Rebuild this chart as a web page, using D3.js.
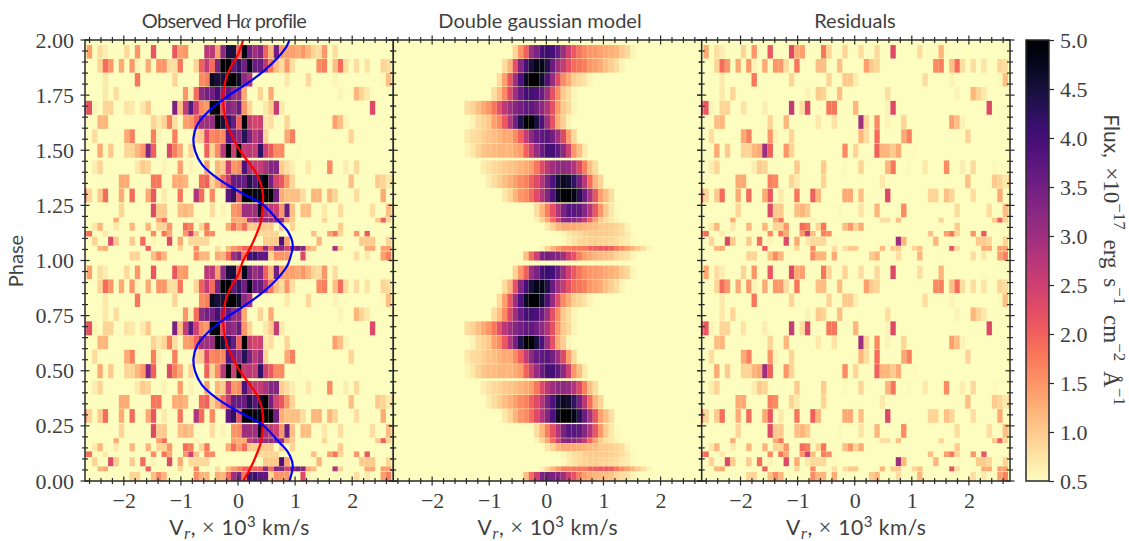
<!DOCTYPE html>
<html>
<head>
<meta charset="utf-8">
<script src="https://cdn.jsdelivr.net/npm/d3@7"></script>
<style>
	html, body { margin: 0; padding: 0; background: #fff; }
	svg { display: block; }
	text { fill: #3f3f3f; }
</style>
</head>
<body>
<div id="chart"></div>
<script>
// Phase-folded H-alpha trailed spectrum, double gaussian model and residuals

// Velocity bins, in units of 10^3 km/s
var BIN_START = -2.743;
var BIN_WIDTH = 0.09357;

// Spectrum rows for phase 0..1, they are drawn again at phase + 1
var rowTop = [0.977, 0.914, 0.850, 0.787, 0.724, 0.659, 0.595, 0.530, 0.454, 0.390, 0.326, 0.258, 0.194, 0.171, 0.134, 0.108, 0.066, 0.041];
var rowBottom = [0.916, 0.852, 0.789, 0.726, 0.661, 0.597, 0.532, 0.466, 0.392, 0.328, 0.264, 0.196, 0.172, 0.135, 0.109, 0.067, 0.044, 0.000];

// Flux per row: {velocity bin: flux}, bins left out sit at the 0.5 floor
var observedRows = [
	{1:1.4,3:.8,4:.65,8:.85,10:1.5,13:2.1,17:2.1,18:1.4,19:1.5,23:2.7,24:2.7,25:1.4,26:3.2,27:4.5,28:4.5,29:2.0,30:4.8,31:3.5,32:3,33:3.3,34:2,35:1.2,36:3.5,37:1.5,38:1.4,39:1.4,40:1.3,41:1.5,42:1.2,43:.9,44:.8,45:1.5,47:.8},
	{3:.9,4:1.9,5:1.5,7:1.3,9:1.5,10:.6,12:1.3,14:1.5,15:1.5,16:.8,17:.8,18:1.8,21:.9,22:2.0,23:2.6,24:1.9,25:3.4,26:5,27:5,28:3.7,29:4.2,30:3.5,31:4.8,32:3.6,33:3.6,34:2.7,35:1.8,36:1.1,37:.8,38:1.5,39:.8,44:1.6,45:1.7,47:1.1,48:1.9,49:.8,51:.8,53:.75,56:.9,57:.8},
	{4:.7,10:1.8,17:.9,22:1.6,23:1.7,24:4.7,25:4.5,26:4.5,27:5,28:5,29:4.6,30:3.2,31:2.8,38:.7,42:.85,47:.6,56:.55,57:1.1},
	{4:.7,6:.8,20:.6,19:1.5,21:1.9,22:3.2,23:3.5,24:3.5,25:4,26:3.4,27:3.7,28:3.1,29:3.1,30:1.3,33:.9,35:1.3,48:.6,51:1.2,52:.9,53:.7},
	{0:2.2,1:2.2,2:.6,4:.9,5:.9,8:.75,9:.7,11:.7,12:1.0,17:3.4,18:1.1,19:2.6,20:3.8,21:2.5,22:1.6,23:1.5,24:5,25:5,26:2.3,27:3.3,28:3.1,29:3.6,30:1.5,31:.9,34:.7,35:1.0,36:2.6,37:.7,54:2.3},
	{3:1.2,4:1.2,13:.9,14:.7,15:.9,16:1.7,17:.8,19:1.4,20:1.5,21:2,22:3,23:3,24:3.1,25:5,26:4.5,27:4.2,28:3.6,29:2.0,30:5,31:2.6,32:2.4,33:2.5,34:.7,35:.8,38:.9,47:1.4,48:1.1,49:.6},
	{2:.8,8:1.3,9:1.7,13:1.7,14:.6,17:1.7,21:.9,22:1.0,23:2.3,24:1.6,25:1.7,26:1.6,27:3.8,28:3.5,29:3.2,30:4.3,31:3.4,32:2.7,33:3.1,34:.9,38:1.3,39:1.7,50:.9,58:.6},
	{3:1.3,5:1.0,8:.9,9:.9,10:1.2,11:1.5,12:3.3,13:2.0,16:2.3,17:1.7,18:1.3,20:.9,23:2.0,24:.9,25:1.6,26:2.7,27:4.9,28:2.5,29:5,30:2.6,31:2.7,32:2.6,33:4.2,34:2.5,35:2.1,36:1.6,37:1.6,40:.55},
	{2:.65,3:.9,10:.7,11:1.0,12:.9,15:.6,18:1.4,20:.6,23:1.4,25:1.2,26:1.0,27:2.5,28:1.5,29:1.6,30:3.9,31:2.9,32:2.6,33:2.6,34:2.9,35:3.3,36:3.3,37:1.0,38:.8,39:.65,42:.7,46:1.6,49:.65,51:.85},
	{7:1.3,8:1.3,13:1.8,14:1.8,17:1.3,18:1.3,19:1.2,22:1.9,23:2.0,24:.9,25:1.3,26:1.9,27:2.6,28:3.6,29:3.6,30:3.6,31:4.4,32:3.8,33:4.6,34:5,35:3.5,36:2.4,37:2.1,38:1.5,39:.9,50:1.1,55:1.0,56:.9,57:.7,58:.9},
	{0:2.0,1:.9,3:1.0,4:1.9,7:1.3,9:1.9,12:1.3,13:2.1,15:.7,18:1.8,21:2.8,22:1.9,24:1.6,27:3.7,28:4.2,29:2.2,30:5,31:5,32:4.8,33:4.8,34:5,35:5,36:3.5,37:1.3,38:1.1,39:1.1,40:1.1,41:.8,43:1.2,44:1.2,46:1.2,47:.9,51:.8,56:1.3},
	{7:.9,13:2.3,14:1.0,15:1.0,18:1.1,19:1.2,20:1.1,24:.8,26:.6,28:1.5,29:1.6,30:3,31:3,32:3,33:4.7,34:3,35:2.7,36:2.5,37:1.5,38:3.6,39:1.1,41:1.1,42:1.1,45:.7,48:.8,54:.8,57:1.1,58:.8},
	{6:1.3,14:1.4,15:1.9,21:.6,28:1.4,29:1.3,30:1.3,31:2.6,32:3,33:3,34:3.1,35:3.1,36:3.1,37:3.1,38:1.4,39:1,45:.9,55:1.0,56:2.0,57:.9},
	{2:.7,3:1.2,6:.7,9:1.2,12:1.2,14:.9,15:.9,16:1.5,19:1.9,20:1.7,22:.9,23:1.8,27:1.3,28:1.9,29:1.4,30:1.9,31:1.0,32:1.0,33:1.0,34:1.0,35:1.0,37:1.0,39:.9,48:1.0},
	{0:1.9,1:1.9,4:.7,13:1.6,15:1.8,16:1.3,19:1.5,20:2.5,21:1.1,23:1.7,24:1.6,33:.8,34:.9,35:.9,36:.9,43:1.1,46:1.4,47:1.8,48:.9,51:1.5,53:2.1,58:.7},
	{2:.9,5:2.3,6:1.0,9:1.0,11:1.9,13:.6,16:2.3,18:1.3,20:.85,21:.85,22:.85,23:.85,34:1.0,35:1.0,36:1.0,37:3.9,38:1.4,44:1.2,52:1.0,53:1.0,54:1.0,57:.9},
	{3:1.2,4:1.3,12:2.0,18:.9,21:1.6,25:.8,27:1.1,28:1.5,29:1.7,30:2,31:2,32:2,33:2,34:3.2,35:1.9,36:3.3,37:3.3,38:2.5,39:3.1,40:3.5,41:3.3,42:1.3,43:1.1,47:2.8,48:.9,53:1.3,54:1.3,56:1.4,57:1.4},
	{9:.9,10:.9,13:1.1,14:1.6,15:1.2,21:1.6,22:1.2,23:1.2,25:1.3,26:1.2,27:1.9,28:3,29:3.4,30:1.8,31:4,32:4.1,33:3.7,34:3.7,35:.9,36:1.5,37:1.5,38:1.5,41:2.3,42:.6,51:.8,53:.7,56:1.4,57:1.7}
];

// Model flux per row: first bin in modelStart, then consecutive bins
var modelStart = [23, 21, 20, 19, 14, 15, 14, 14, 17, 18, 21, 27, 27, 29, 32, 32, 28, 25];
var modelRows = [
	[.9,1.5,2,3,3.4,4,4.1,4,3.6,3,2.5,2.1,1.8,1.6,1.5,1.45,1.4,1.3,1.25,1.2,1,.85,.6],
	[.8,1.2,2.2,3.3,4,4.5,4.8,4.8,4.4,3.6,3,2.6,2.2,1.9,1.8,1.7,1.5,1.4,1.3,1.1,.95,.8,.6],
	[.8,1.4,2.1,3,3.9,4.7,5,5,4.6,3.9,3.1,2.3,1.6,1.3,.95,.85,.75,.6],
	[.8,1.1,1.6,2.3,3,3.6,4,4,3.9,3.6,3,2.2,1.6,1,.8,.6],
	[.8,.9,1.1,1.3,1.5,1.8,2.2,2.7,3,3.3,3.5,3.7,3.7,3.5,3.2,2.8,2.2,1.5,1,.85,.6],
	[.6,.8,.9,1,1.4,1.6,2.1,2.8,3.5,4.4,5,5,4.5,3.9,3,2.2,1.3,.95,.6],
	[.7,.8,.85,.95,1.05,1.1,1.2,1.3,1.3,1.6,2,2.6,3.2,3.6,3.7,3.8,3.5,3,2.3,1.4,.85],
	[.6,.7,.9,1.05,1.1,1.15,1.2,1.2,1.2,1.3,1.4,2,2.5,3.1,3.6,4,4,3.7,3.2,2.5,1.5,1.1,.7],
	[.65,.75,.85,.9,1,1.05,1.1,1.2,1.3,1.4,1.8,2.3,2.7,3,3.2,3.2,3.1,2.8,2.3,1.7,1.1,.8],
	[.65,.8,.95,1.1,1.25,1.4,1.6,1.7,2,2.3,2.8,3.4,3.9,4.5,4.7,4.6,4.2,3.5,2.7,1.9,1.2,.9],
	[.7,.9,1.2,1.5,1.6,1.9,2.3,2.8,3.3,3.9,4.7,5,5,4.8,4.3,3.6,2.9,2.1,1.4,1.1,.8],
	[.8,1.2,1.7,2.2,2.8,3.4,3.8,3.8,3.7,3.3,2.8,2.1,1.5,1,.7,.55],
	[.6,.9,1.3,1.9,2.5,3.2,3.3,3.2,3,2.6,2,1.4,1,.8,.7,.6],
	[.7,.9,1.2,1.3,1.3,1.3,1.25,1.2,1.15,1.1,1,1,.95,.9,.8,.6],
	[.6,.7,.8,.85,.95,1,1,1,1,.95,.9,.8,.7,.55],
	[.55,.65,.75,.85,.9,.95,.95,.9,.9,.85,.8,.7,.65,.55],
	[.6,.9,1.2,1.5,1.7,1.7,1.8,1.8,1.8,2,2,2.1,2.1,2,1.8,1.6,1.4,1.2,1,.8,.6],
	[1.1,1.9,2.5,3.4,3.5,3.4,3.3,3,2.5,2.2,1.7,1.4,1.3,1.2,1.15,1.1,1.05,.9,.8,.75,.6]
];

var residualRows = [
	{1:1.3,3:.8,4:.65,8:.9,10:1.5,13:2.1,17:2.3,18:1.3,19:1.4,23:1.8,24:.9,27:.9,30:.8,33:.85,36:2.3,41:.8,45:1.2},
	{3:.9,4:1.9,5:1.5,7:1.3,9:1.5,10:.6,12:1.3,14:1.5,15:1.5,16:.8,18:1.8,22:1.1,23:1.1,26:1.1,31:1.4,32:1.0,33:.9,44:1.6,45:1.7,47:1.1,48:1.9,49:.8,51:.8,53:.75,56:.9,57:.8},
	{4:.7,10:1.8,17:.9,24:.9,27:1.0,28:1.0,29:.65,42:.8,47:.6,56:.55,57:1.1},
	{4:.7,6:.9,20:.6,22:1.0,23:.9,26:1.1,35:.8,48:.6,51:1.2,52:.9,53:.7},
	{0:2.3,1:2.1,2:.6,4:.9,5:.9,8:.75,12:.65,17:2.6,19:.8,20:2.3,24:1.8,25:1.8,29:1.2,35:.6,36:2.3,54:2.3},
	{3:1.1,4:1.2,13:.9,16:1.2,22:.7,25:.75,30:3.0,31:.9,33:1.6,35:.6,38:.9,47:1.4,48:1.1,49:.6},
	{2:.8,8:1.3,9:1.7,13:1.5,14:.6,17:.9,30:1.2,31:.8,33:1.9,38:1.3,39:1.7,50:.9,58:.6},
	{3:1.3,5:1.0,8:.9,9:.9,10:1.2,11:1.3,12:3.0,13:2.0,16:1.5,17:.9,27:1.6,29:.9,33:2.0,34:1.2,35:1.2,36:1.0,37:1.3,40:.55},
	{2:.65,3:.9,10:.65,11:1.0,12:.9,18:1.0,23:1.0,27:.55,30:.9,35:1.2,36:1.8,39:.55,42:.7,46:1.6,49:.65,51:.85,55:.55},
	{7:1.3,8:1.3,13:1.7,14:1.6,17:.9,18:.7,23:.9,34:.7,50:1.1,55:1.0,56:.9,57:.7,58:.9},
	{0:2.0,1:.9,3:1.0,4:1.9,7:1.3,9:1.9,12:1.3,13:2.1,15:.7,18:1.8,21:2.0,22:1.2,27:1.3,28:1.3,30:1.1,35:2.3,43:.9,44:.9,46:1.1,47:.9,51:.8,56:1.3},
	{7:.9,13:2.3,14:1.0,15:1.0,18:1.1,19:1.2,20:1.0,26:.55,30:.75,33:1.2,38:1.6,48:.8,54:.8,57:1.1,58:.8},
	{6:1.3,14:1.3,15:1.8,21:.6,34:.8,35:.8,37:1.1,45:.9,55:1.0,56:2.0,57:.9},
	{2:.7,3:1.2,6:.7,9:1.2,12:1.2,14:.9,15:.9,16:1.5,19:1.9,20:1.7,22:.9,23:1.8,27:1.1,28:1.5,29:.9,30:1.3,48:1.0},
	{0:1.9,1:1.9,4:.7,13:1.6,15:1.8,16:1.3,19:1.5,20:2.5,21:1.1,23:1.7,24:1.6,43:1.1,46:1.4,47:1.8,48:.9,51:1.5,53:2.1,58:.7},
	{2:.9,5:2.3,6:1.0,9:1.0,11:1.9,13:.6,16:2.3,18:1.3,20:.7,21:.85,22:.85,23:.85,25:.55,37:3.0,38:1.2,44:1.2,52:1.0,53:1.0,54:.9,57:.9},
	{3:1.2,4:1.3,12:2.0,18:.9,21:1.6,25:.8,27:.8,28:1.0,29:1.0,34:1.2,36:1.0,37:1.0,40:.9,41:1.1,47:2.1,48:.8,53:1.3,54:1.3,56:1.4,57:1.4},
	{9:.9,10:.9,13:1.1,14:1.6,15:1.2,21:1.6,22:1.2,23:1.2,25:1.3,32:1.0,33:1.2,37:.8,41:1.2,51:.8,53:.7,56:1.4,57:1.7}
];

// Radial velocity curves, phase 0..1
var curvePhase = [0, 0.0575, 0.118, 0.178, 0.254, 0.299, 0.375, 0.435, 0.496, 0.556, 0.617, 0.693, 0.753, 0.813, 0.874, 0.934, 1];
var redVelocity = [0.09, 0.216, 0.321, 0.403, 0.432, 0.438, 0.362, 0.216, 0.04, -0.088, -0.193, -0.252, -0.258, -0.223, -0.135, 0, 0.09];
var bluePhase = [0, 0.0726, 0.133, 0.178, 0.254, 0.314, 0.375, 0.435, 0.496, 0.556, 0.617, 0.677, 0.738, 0.798, 0.859, 0.919, 0.975, 1];
var blueVelocity = [0.90, 0.958, 0.87, 0.713, 0.43, 0.01, -0.37, -0.63, -0.75, -0.78, -0.71, -0.515, -0.22, 0.13, 0.45, 0.695, 0.86, 0.90];

// Axis ticks
var xMajor = [-2, -1, 0, 1, 2];
var yMajor = [0, 0.25, 0.5, 0.75, 1, 1.25, 1.5, 1.75, 2];
var cbarTicks = [0.5, 1, 1.5, 2, 2.5, 3, 3.5, 4, 4.5, 5];

var panelTitles = ["Observed H", "Double gaussian model", "Residuals"];

// Layout constants
var WIDTH = 1129, HEIGHT = 541;
var TOP = 40, BOTTOM = 481;
var PANEL_X = [85, 393.3, 701.7, 1010];
var TITLE_X = [224, 540, 855];
var CBAR_X = 1026, CBAR_W = 23;
var FRAME = "#2a2a2a";
var SERIF = "'Liberation Serif', serif";
var SANS = "Lato, sans-serif";

var N_BINS = 59;

var svg = d3.select("#chart").append("svg")
	.attr("width", WIDTH)
	.attr("height", HEIGHT);

var y = d3.scaleLinear().domain([0, 2]).range([BOTTOM, TOP]);
var colorFlux = d3.scaleSequential(function(t) { return d3.interpolateMagma(1 - t); }).domain([0.5, 5]).clamp(true);

// Turn a row (sparse object or start + values) into a list of cells
var sparseCells = function(rows) {
	var cells = [];
	rows.forEach(function(row, r) {
		d3.range(N_BINS).forEach(function(b) {
			if (row[b] !== undefined) cells.push({row: r, bin: b, flux: row[b]});
		});
	});
	return cells;
};

var modelCells = function() {
	var cells = [];
	modelRows.forEach(function(row, r) {
		row.forEach(function(f, i) {
			cells.push({row: r, bin: modelStart[r] + i, flux: f});
		});
	});
	return cells;
};

var drawTicks = function(g, horizontal, scale, values, fixed, half) {
	g.selectAll(null)
		.data(values)
		.enter()
		.append("line")
		.attr("x1", function(d) { return horizontal ? scale(d) : fixed - half; })
		.attr("x2", function(d) { return horizontal ? scale(d) : fixed + half; })
		.attr("y1", function(d) { return horizontal ? fixed - half : scale(d); })
		.attr("y2", function(d) { return horizontal ? fixed + half : scale(d); })
		.attr("stroke", FRAME)
		.attr("stroke-width", 1.2);
};

var renderPanel = function(i, cells) {
	var x0 = PANEL_X[i], x1 = PANEL_X[i + 1];
	var x = d3.scaleLinear().domain([-2.68, 2.72]).range([x0, x1]);
	var clipId = "clip" + i;

	svg.append("clipPath").attr("id", clipId)
		.append("rect")
		.attr("x", x0).attr("y", TOP)
		.attr("width", x1 - x0).attr("height", BOTTOM - TOP);

	var g = svg.append("g").attr("clip-path", "url(#" + clipId + ")");

	g.append("rect")
		.attr("x", x0).attr("y", TOP)
		.attr("width", x1 - x0).attr("height", BOTTOM - TOP)
		.attr("fill", colorFlux(0.5));

	// Each spectrum is drawn twice, for phase 0..1 and 1..2
	[0, 1].forEach(function(offset) {
		g.append("g").selectAll("rect")
			.data(cells)
			.enter()
			.append("rect")
			.attr("x", function(d) { return x(BIN_START + d.bin * BIN_WIDTH); })
			.attr("width", x(BIN_WIDTH) - x(0))
			.attr("y", function(d) { return y(rowTop[d.row] + offset); })
			.attr("height", function(d) { return y(rowBottom[d.row]) - y(rowTop[d.row]); })
			.attr("fill", function(d) { return colorFlux(d.flux); });
	});

	// Velocity curves only on the observed panel
	if (i == 0) {
		var curve = function(phases, values) {
			return d3.line()
				.x(function(d) { return x(d[1]); })
				.y(function(d) { return y(d[0]); })
				.curve(d3.curveCatmullRom)
				(phases.map(function(p, j) { return [p, values[j]]; })
					.concat(phases.slice(1).map(function(p, j) { return [p + 1, values[j + 1]]; })));
		};
		g.append("path").attr("d", curve(curvePhase, redVelocity))
			.attr("fill", "none").attr("stroke", "#ff0000").attr("stroke-width", 2.2);
		g.append("path").attr("d", curve(bluePhase, blueVelocity))
			.attr("fill", "none").attr("stroke", "#0000ff").attr("stroke-width", 2.2);
	}

	svg.append("rect")
		.attr("x", x0).attr("y", TOP)
		.attr("width", x1 - x0).attr("height", BOTTOM - TOP)
		.attr("fill", "none")
		.attr("stroke", FRAME)
		.attr("stroke-width", 1.5);

	// Ticks cross the frame on all four sides
	var xMinor = d3.range(-13, 14).map(function(d) { return d * 0.2; })
		.filter(function(d) { return Math.abs(d * 5 % 5) > 0.01; });
	var yMinor = d3.range(0, 41).map(function(d) { return d * 0.05; })
		.filter(function(d) { return Math.abs(d * 20 % 5) > 0.01; });
	var t = svg.append("g");
	[TOP, BOTTOM].forEach(function(f) {
		drawTicks(t, true, x, xMajor, f, 4.5);
		drawTicks(t, true, x, xMinor, f, 3);
	});
	[x0, x1].forEach(function(f) {
		drawTicks(t, false, y, yMajor, f, 4.5);
		drawTicks(t, false, y, yMinor, f, 3);
	});

	// Tick labels
	var ax = svg.append("g")
		.attr("transform", "translate(0," + BOTTOM + ")")
		.call(d3.axisBottom(x).tickValues(xMajor).tickSize(0).tickPadding(11).tickFormat(d3.format("d")));
	ax.select(".domain").remove();
	ax.selectAll("text").attr("font-family", SERIF).attr("font-size", 22).attr("fill", "#3f3f3f");

	// Title
	var title = svg.append("text")
		.attr("x", TITLE_X[i]).attr("y", 28)
		.attr("text-anchor", "middle")
		.attr("font-family", SANS)
		.attr("font-size", 20)
		.text(panelTitles[i]);
	if (i == 0) {
		title.attr("letter-spacing", -0.7);
		title.append("tspan").attr("font-family", SERIF).attr("font-style", "italic").attr("font-size", 20).text("\u03b1");
		title.append("tspan").text(" profile");
	}

	// X label
	var label = svg.append("text")
		.attr("x", x(0) + 1.5).attr("y", 534.5)
		.attr("text-anchor", "middle")
		.attr("font-family", SANS)
		.attr("font-size", 21)
		.attr("letter-spacing", 0.5)
		.text("V");
	label.append("tspan").attr("font-family", SERIF).attr("font-style", "italic").attr("font-size", 16).attr("dy", 4).text("r");
	label.append("tspan").attr("dy", -4).text(",  ");
	label.append("tspan").attr("font-family", SERIF).attr("font-size", 23).text("\u00d7 ");
	label.append("tspan").text("10");
	label.append("tspan").attr("font-size", 15).attr("dy", -8).text("3");
	label.append("tspan").attr("dy", 8).text(" km/s");
};

renderPanel(0, sparseCells(observedRows));
renderPanel(1, modelCells());
renderPanel(2, sparseCells(residualRows));

// Phase axis labels
var ay = svg.append("g")
	.attr("transform", "translate(" + PANEL_X[0] + ",0)")
	.call(d3.axisLeft(y).tickValues(yMajor).tickSize(0).tickPadding(11).tickFormat(d3.format(".2f")));
ay.select(".domain").remove();
ay.selectAll("text").attr("font-family", SERIF).attr("font-size", 22).attr("fill", "#3f3f3f");

svg.append("text")
	.attr("transform", "translate(23,261) rotate(-90)")
	.attr("text-anchor", "middle")
	.attr("font-family", SANS)
	.attr("font-size", 20)
	.text("Phase");

// Colorbar
var cbarScale = d3.scaleLinear().domain([0.5, 5]).range([BOTTOM, TOP]);
var grad = svg.append("defs").append("linearGradient")
	.attr("id", "cbarGrad")
	.attr("x1", 0).attr("x2", 0).attr("y1", 1).attr("y2", 0);
grad.selectAll("stop")
	.data(d3.range(0, 1.0001, 0.02))
	.enter()
	.append("stop")
	.attr("offset", function(d) { return d; })
	.attr("stop-color", function(d) { return colorFlux(0.5 + d * 4.5); });

svg.append("rect")
	.attr("x", CBAR_X).attr("y", TOP)
	.attr("width", CBAR_W).attr("height", BOTTOM - TOP)
	.attr("fill", "url(#cbarGrad)")
	.attr("stroke", FRAME)
	.attr("stroke-width", 1.5);

var cax = svg.append("g")
	.attr("transform", "translate(" + (CBAR_X + CBAR_W) + ",0)")
	.call(d3.axisRight(cbarScale).tickValues(cbarTicks).tickSize(5).tickPadding(6).tickFormat(d3.format(".1f")));
cax.select(".domain").remove();
cax.selectAll("line").attr("stroke", FRAME).attr("stroke-width", 1.2);
cax.selectAll("text").attr("font-family", SERIF).attr("font-size", 22).attr("fill", "#3f3f3f");

// Colorbar label, written with superscripts along the rotated baseline
var cbarLabel = svg.append("text")
	.attr("transform", "translate(1104,260) rotate(90)")
	.attr("text-anchor", "middle")
	.attr("font-family", SERIF)
	.attr("font-size", 23)
	.attr("word-spacing", 4);
cbarLabel.append("tspan").attr("font-family", SANS).attr("font-size", 21).text("Flux, ");
cbarLabel.append("tspan").text("\u00d710");
cbarLabel.append("tspan").attr("font-size", 17).attr("dy", -10).text("\u221217");
cbarLabel.append("tspan").attr("dy", 10).text(" erg s");
cbarLabel.append("tspan").attr("font-size", 17).attr("dy", -10).text("\u22121");
cbarLabel.append("tspan").attr("dy", 10).text(" cm");
cbarLabel.append("tspan").attr("font-size", 17).attr("dy", -10).text("\u22122");
cbarLabel.append("tspan").attr("dy", 10).text(" \u00c5");
cbarLabel.append("tspan").attr("font-size", 17).attr("dy", -10).text("\u22121");
</script>
</body>
</html>
